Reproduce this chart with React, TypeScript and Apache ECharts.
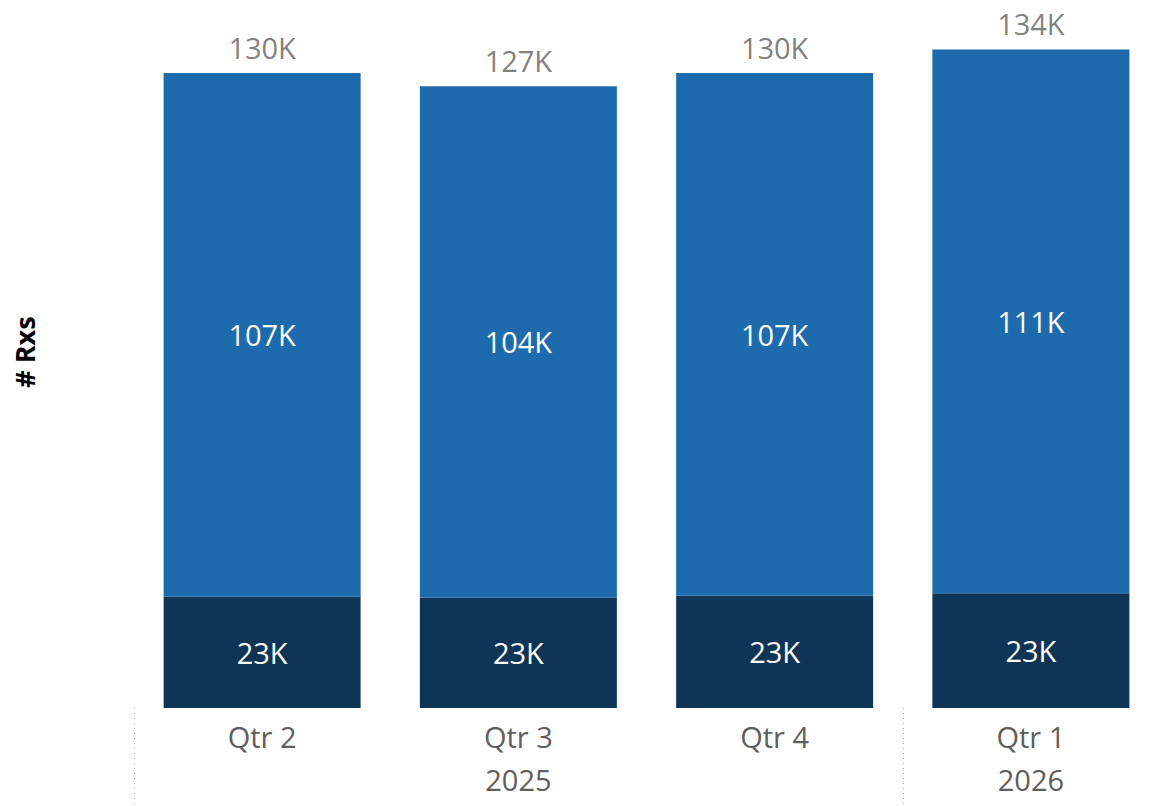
import React, { useEffect, useRef } from "react";
import * as echarts from "echarts";

const categories = ["Qtr 2", "Qtr 3\n2025", "Qtr 4", "Qtr 1\n2026"];
const baseValues = [22700, 22500, 22900, 23400];
const upperValues = [106900, 104400, 106700, 111000];
const totals = baseValues.map((v, i) => v + upperValues[i]);

const FONT = "'Open Sans', 'Noto Sans', sans-serif";
const fmtK = (v: number) => `${Math.round(v / 1000)}K`;

export default function App() {
  const ref = useRef<HTMLDivElement>(null);
  useEffect(() => {
    if (!ref.current) return;
    const chart = echarts.init(ref.current, undefined, { renderer: "svg" });
    chart.setOption({
      animation: false,
      textStyle: { fontFamily: FONT },
      grid: { left: 134, top: 22, width: 1025, height: 686, containLabel: false },
      xAxis: {
        type: "category",
        data: categories,
        axisLine: { show: false },
        axisTick: {
          show: true,
          length: 98,
          interval: (index: number) => index === 0 || index === 3,
          lineStyle: { color: "#b0b0b0", type: [1, 4], width: 1 },
        },
        axisLabel: {
          color: "#605E5C",
          fontSize: 29,
          fontFamily: FONT,
          lineHeight: 43,
          margin: 7,
          verticalAlign: "top",
        },
      },
      yAxis: {
        type: "value",
        min: 0,
        max: 140000,
        show: false,
        splitLine: { show: false },
      },
      graphic: [
        {
          type: "text",
          x: 24,
          y: 352,
          rotation: Math.PI / 2,
          style: {
            text: "# Rxs",
            fontFamily: FONT,
            fontSize: 27,
            fontWeight: "bold",
            fill: "#000000",
            align: "center",
            verticalAlign: "middle",
          },
        },
      ],
      series: [
        {
          type: "bar",
          stack: "total",
          data: baseValues,
          barWidth: 197,
          itemStyle: { color: "#0F3556" },
          label: {
            show: true,
            position: "inside",
            color: "#ffffff",
            fontSize: 29,
            fontFamily: FONT,
            formatter: (p: any) => fmtK(p.value),
          },
        },
        {
          type: "bar",
          stack: "total",
          data: upperValues,
          barWidth: 197,
          itemStyle: { color: "#1D6AAD" },
          label: {
            show: true,
            position: "inside",
            color: "#ffffff",
            fontSize: 29,
            fontFamily: FONT,
            formatter: (p: any) => fmtK(p.value),
          },
        },
        {
          type: "scatter",
          data: totals,
          symbolSize: 0,
          silent: true,
          label: {
            show: true,
            position: "top",
            distance: 11,
            color: "#605E5C",
            fontSize: 29,
            fontFamily: FONT,
            formatter: (p: any) => fmtK(p.value),
          },
        },
      ],
    });
    return () => chart.dispose();
  }, []);
  return (
    <div
      style={{ position: "absolute", left: 0, top: 0, width: 1154, height: 806, overflow: "hidden" }}
    >
      <div ref={ref} style={{ width: 1170, height: 806 }} />
    </div>
  );
}
